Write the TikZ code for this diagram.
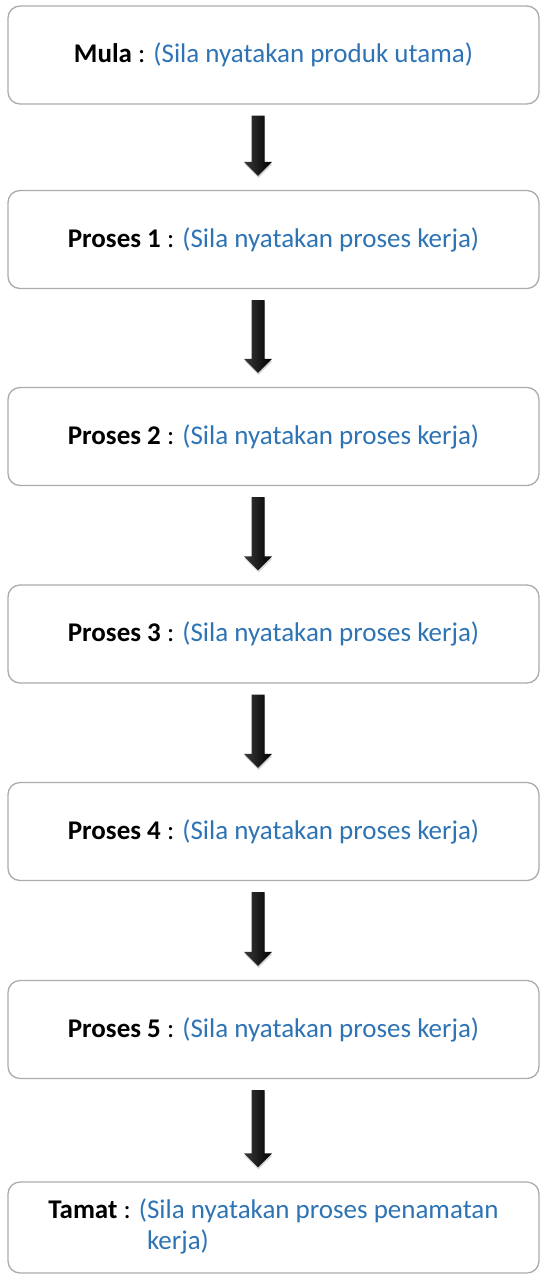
\documentclass[tikz,border=0pt]{standalone}
\usepackage{fontspec}
\setmainfont{Carlito}
\usetikzlibrary{calc,shadows}
\definecolor{notecolor}{RGB}{46,116,181}

\begin{document}
\begin{tikzpicture}[
            x=1pt, y=1pt,
            stagebox/.style = {shape=rectangle, rounded corners=12pt, draw=gray!65, line width=1.3pt, fill=white,
                               minimum width=531pt, minimum height=98pt, align=center, font=\fontsize{27}{31}\selectfont},
            blockarrow/.style = {left color=gray!45!black, right color=black,
                                 drop shadow={opacity=0.35, shadow xshift=0.5pt, shadow yshift=-2pt}}
        ]
        \useasboundingbox (0,0) rectangle (540,-1275);
        \node[stagebox] (mula) at (273.5,-55) {\textbf{Mula} : \textcolor{notecolor}{(Sila nyatakan produk utama)}};
        \node[stagebox] (p1) at (273.5,-239.5) {\textbf{Proses 1} : \textcolor{notecolor}{(Sila nyatakan proses kerja)}};
        \node[stagebox] (p2) at (273.5,-436.5) {\textbf{Proses 2} : \textcolor{notecolor}{(Sila nyatakan proses kerja)}};
        \node[stagebox] (p3) at (273.5,-634) {\textbf{Proses 3} : \textcolor{notecolor}{(Sila nyatakan proses kerja)}};
        \node[stagebox] (p4) at (273.5,-831.5) {\textbf{Proses 4} : \textcolor{notecolor}{(Sila nyatakan proses kerja)}};
        \node[stagebox] (p5) at (273.5,-1029.5) {\textbf{Proses 5} : \textcolor{notecolor}{(Sila nyatakan proses kerja)}};
        \node[stagebox, minimum height=91pt] (tamat) at (273.5,-1227.5)
            {\textbf{Tamat} : \textcolor{notecolor}{\begin{tabular}[t]{@{}l@{}}(Sila nyatakan proses penamatan\\\phantom{(}kerja)\end{tabular}}};
        \foreach \a/\b in {mula/p1, p1/p2, p2/p3, p3/p4, p4/p5, p5/tamat}
            \path let \p1 = ($(\a.south)+(-15.5,-11)$), \p2 = ($(\b.north)+(-15.5,14)$) in
                [blockarrow] (\x1-6.5,\y1) -- (\x1+6.5,\y1) -- (\x1+6.5,\y2+14) -- (\x1+14,\y2+14)
                -- (\x2,\y2) -- (\x1-14,\y2+14) -- (\x1-6.5,\y2+14) -- cycle;
\end{tikzpicture}
\end{document}
